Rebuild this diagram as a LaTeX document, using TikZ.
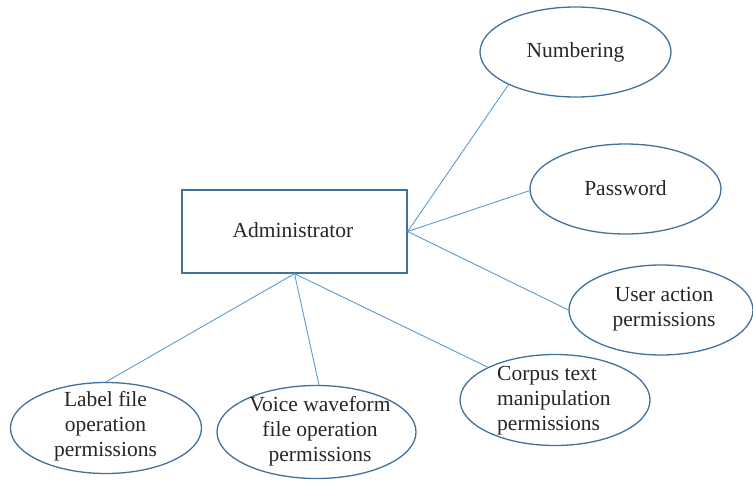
\documentclass[tikz,border=0pt]{standalone}
\usepackage{fontspec}
\setmainfont{Liberation Serif}
\usetikzlibrary{shapes.geometric}
\definecolor{edgeblue}{HTML}{41719C}
\definecolor{linkblue}{HTML}{5B9BD5}
\begin{document}
\begin{tikzpicture}[x=1pt,y=-1pt,
  entity/.style={draw=edgeblue, line width=1.3pt, minimum width=225pt, minimum height=83pt, inner sep=0pt},
  attr/.style={ellipse, draw=edgeblue, line width=1.3pt, inner sep=0pt},
  lbl/.style={font=\fontsize{21.5}{25}\selectfont, align=center, inner sep=0pt, text=black!85},
  link/.style={draw=linkblue, line width=0.9pt}]
\useasboundingbox (0,0) rectangle (753,480);

% central entity
\node[entity] (admin) at (294.5,231.5) {};
\node[lbl, anchor=base] (adminText) at (293,237) {Administrator};

% attribute ellipses
\node[attr, minimum width=191pt, minimum height=90pt] (num)  at (575.5,52) {};
\node[attr, minimum width=191pt, minimum height=90pt] (pw)   at (625.5,189) {};
\node[attr, minimum width=184pt, minimum height=90pt] (user) at (661,310) {};
\node[attr, minimum width=191pt, minimum height=91pt] (label) at (106,428) {};
\node[attr, minimum width=199pt, minimum height=93pt] (voice) at (316.5,432) {};
\node[attr, minimum width=190pt, minimum height=91pt] (corpus) at (555,400) {};

% attribute texts (base anchor = baseline of the last line)
\node[lbl, anchor=base] (numText)   at (575.5,57)  {Numbering};
\node[lbl, anchor=base] (pwText)    at (625.5,195) {Password};
\node[lbl, anchor=base] (userText)  at (664,326.7) {User action\\permissions};
\node[lbl, anchor=base] (labelText) at (105.5,456.7) {Label file\\operation\\permissions};
\node[lbl, anchor=base] (voiceText) at (320,461.7) {Voice waveform\\file operation\\permissions};
\node[lbl, anchor=base west, align=left] (corpusText) at (497,430) {Corpus text\\manipulation\\permissions};

% connectors
\draw[link] (admin.east) -- (num.206);
\draw[link] (admin.east) -- (pw.181);
\draw[link] (admin.east) -- (user.west);
\draw[link] (admin.south) -- (label.north);
\draw[link] (admin.south) -- (voice.87);
\draw[link] (admin.south) -- (corpus.154);
\end{tikzpicture}
\end{document}
